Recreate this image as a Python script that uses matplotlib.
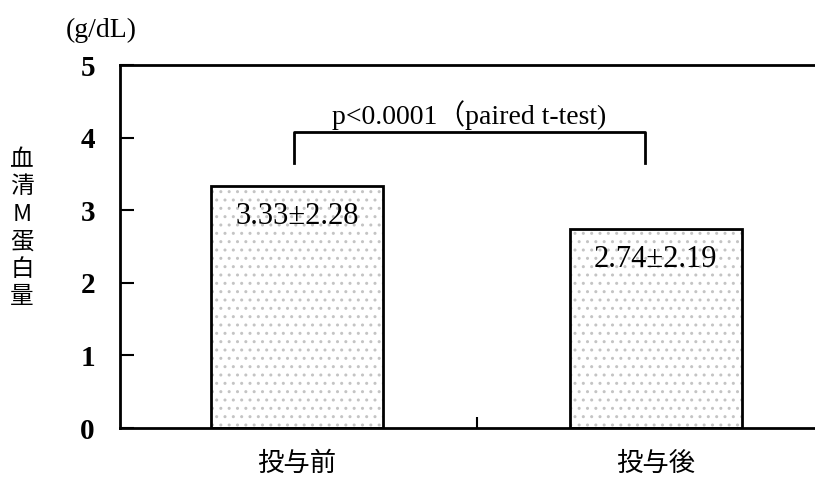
import numpy as np
import matplotlib.pyplot as plt

categories = ["投与前", "投与後"]
means = [3.33, 2.74]
labels = ["3.33±2.28", "2.74±2.19"]
y_ticks = [0, 1, 2, 3, 4, 5]
p_text = "p<0.0001（paired t-test)"

serif = ["Liberation Serif", "Noto Sans CJK JP"]
jp = ["Noto Sans CJK JP", "DejaVu Sans"]

fig = plt.figure(figsize=(8.15, 4.84), dpi=100)
ax = fig.add_axes([0.1472, 0.1157, 0.86, 0.75])

x = np.arange(len(categories))
w = 0.48
# stippled fill, then black outline on top
ax.bar(x, means, width=w, color="white", edgecolor="#c4c4c4", hatch="..", linewidth=0, zorder=2)
ax.bar(x, means, width=w, fill=False, edgecolor="black", linewidth=2, zorder=3)

for xi, m, lab in zip(x, means, labels):
    ax.text(xi, m - 0.42, lab, ha="center", va="center", fontsize=22,
            family=serif, zorder=4)

# significance bracket
by, bd = 4.08, 3.65
ax.plot([x[0] - 0.01, x[0] - 0.01, x[1] - 0.03, x[1] - 0.03], [bd, by, by, bd],
        color="black", lw=2, zorder=4)
ax.text((x[0] + x[1]) / 2 - 0.02, by + 0.03, p_text, ha="center", va="bottom",
        fontsize=20, family=serif)

ax.set_xlim(-0.494, 1.46)
ax.set_ylim(0, 5)
ax.set_yticks(y_ticks)
ax.set_yticklabels([str(t) for t in y_ticks], family=serif, fontsize=21, fontweight="bold")
ax.tick_params(axis="y", direction="in", length=10, width=1.5, pad=18)
ax.set_xticks(x)
ax.set_xticklabels(categories, family=jp, fontsize=19)
ax.tick_params(axis="x", length=0, pad=16)
ax.set_xticks([0.5], minor=True)
ax.tick_params(axis="x", which="minor", direction="in", length=8, width=1.5)

ax.spines["right"].set_visible(False)
for s in ["left", "top", "bottom"]:
    ax.spines[s].set_linewidth(2)

fig.text(66 / 815, 1 - 30 / 484, "(g/dL)", fontsize=20, family=serif, va="center", ha="left")
fig.text(22 / 815, 1 - 228 / 484, "血\n清\nM\n蛋\n白\n量", fontsize=17,
         family=jp, va="center", ha="center", linespacing=1.25)

fig.savefig("out.png", dpi=100)
